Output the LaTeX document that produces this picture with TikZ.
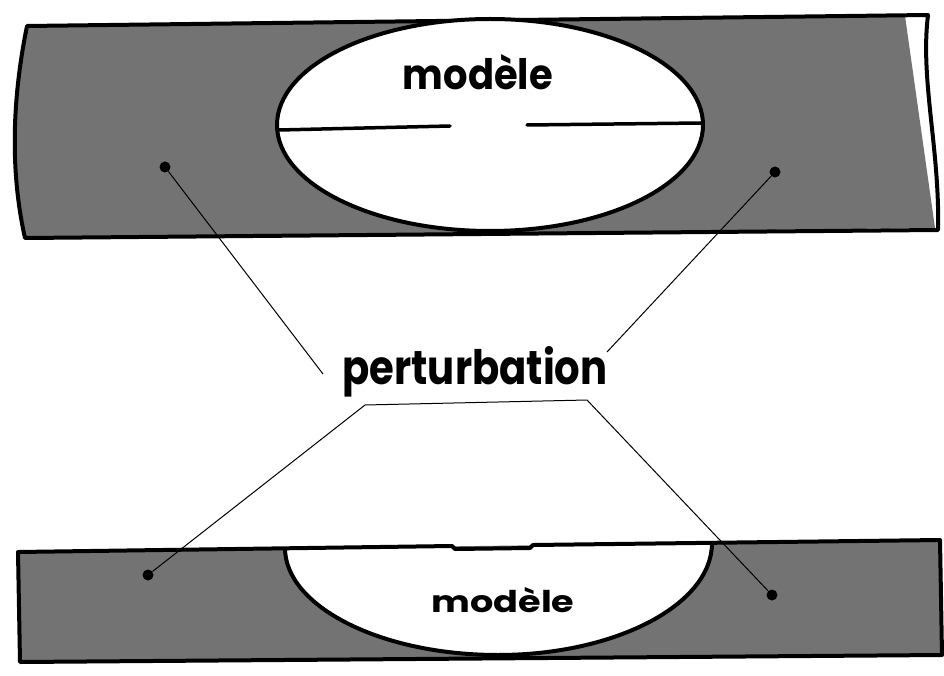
\documentclass[tikz,border=0pt]{standalone}
\usepackage{fontspec}
\usepackage{graphicx}
\setmainfont{Poppins}
\begin{document}
\begin{tikzpicture}[x=1pt,y=-1pt,
  band/.style={fill=black!55},
  outline/.style={line width=4pt, line join=round},
  divider/.style={line width=3.5pt, line cap=round},
  leader/.style={line width=1pt},
  dotnode/.style={circle, fill=black, inner sep=0pt, minimum size=11pt},
  hand/.style={inner sep=0pt, anchor=base}]
\useasboundingbox (0,0) rectangle (944,676);

% ---------- top band ----------
\fill[band] (27,26) -- (905,16) -- (935,228) -- (25,238)
  .. controls (12,180) and (10,110) .. (27,26) -- cycle;
\draw[outline] (27,26) -- (928,15) .. controls (920,80) and (940,150) .. (938,230)
  -- (25,238) .. controls (12,180) and (10,110) .. (27,26) -- cycle;
\draw[outline, fill=white] (490,125) ellipse [x radius=213, y radius=106];
\draw[divider] (279,130) -- (450,126);
\draw[divider] (527,125) -- (701,123);
\node[hand] (m1) at (478,90) {\resizebox{150pt}{35pt}{\bfseries modèle}};

% ---------- bottom band ----------
\fill[band] (18,552) -- (940,540) -- (942,655) -- (20,662) -- cycle;
\fill[white] (285,548) -- (452,546) -- (455,549) -- (530,548) -- (533,545) -- (712,543)
  .. controls (712,605) and (615,655) .. (498,655)
  .. controls (380,655) and (285,606) .. (285,548) -- cycle;
\draw[outline] (18,552) -- (452,546) -- (455,549) -- (530,548) -- (533,545)
  -- (940,540) -- (942,655) -- (20,662) -- cycle;
\draw[outline] (712,543) .. controls (712,605) and (615,655) .. (498,655)
  .. controls (380,655) and (285,606) .. (285,548);
\node[hand] (m2) at (503,612) {\resizebox{143pt}{25pt}{\bfseries modèle}};

% ---------- label and leaders ----------
\node[hand] (pert) at (475,384) {\resizebox{265pt}{38pt}{\bfseries perturbation}};
\node[dotnode] (d1) at (165,167) {};
\node[dotnode] (d2) at (775,172) {};
\node[dotnode] (d3) at (148,575) {};
\node[dotnode] (d4) at (772,595) {};
\coordinate (p1) at (323,374);
\coordinate (p2) at (607,352);
\coordinate (q1) at (365,405);
\coordinate (q2) at (587,400);
\draw[leader] (d1) -- (p1);
\draw[leader] (d2) -- (p2);
\draw[leader] (d3) -- (q1) -- (q2) -- (d4);
\end{tikzpicture}
\end{document}
